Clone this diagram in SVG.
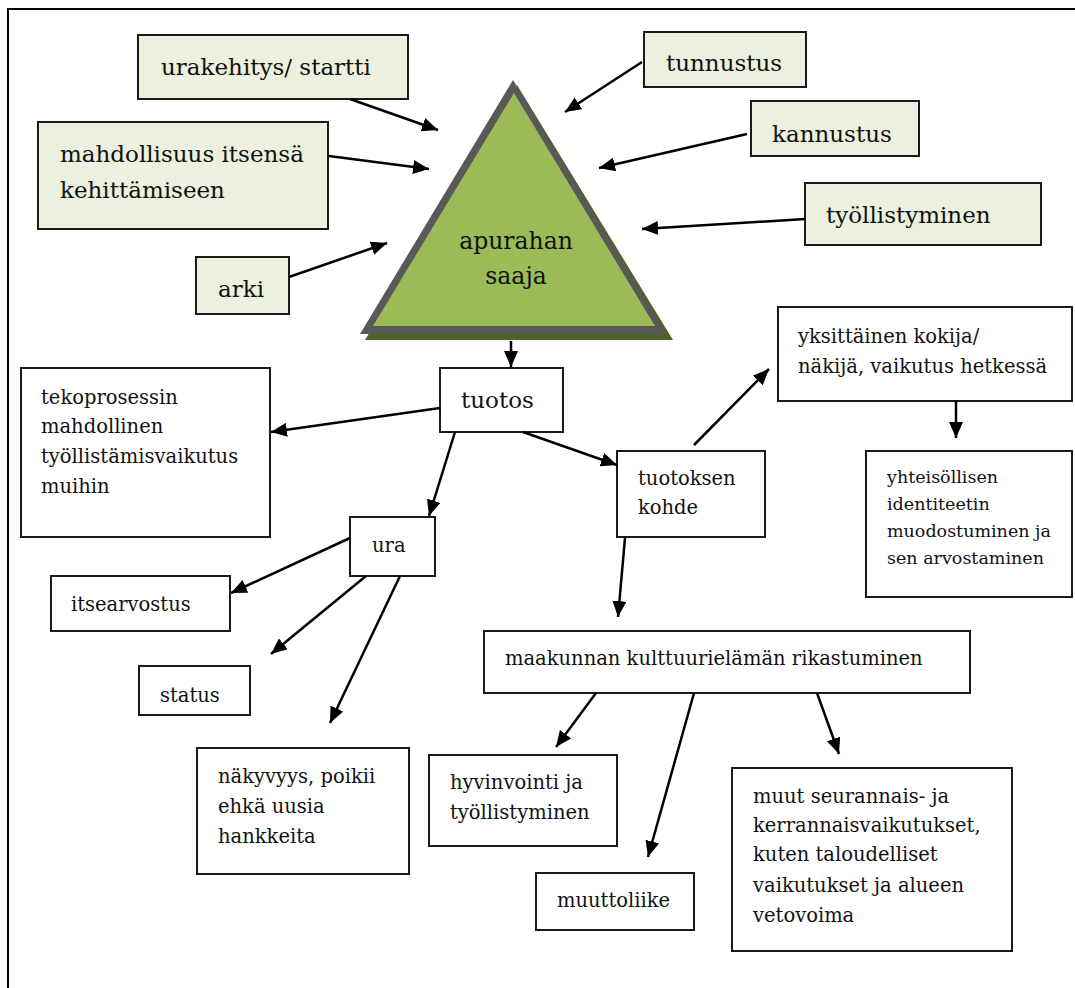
<svg xmlns="http://www.w3.org/2000/svg" width="1075" height="988" viewBox="0 0 1075 988">
<style>
.g{fill:#EBF1DE;stroke:#1a1a1a;stroke-width:2}
.w{fill:#ffffff;stroke:#1a1a1a;stroke-width:2}
.t{font-family:"DejaVu Serif","Liberation Serif",serif;fill:#111;}
.L{font-size:23px}
.A{font-size:23.5px}
.M{font-size:19.5px}
.S{font-size:17.5px}
.c line{stroke:#000;stroke-width:2.5;marker-end:url(#ah)}
</style>
<defs>
<marker id="ah" markerUnits="userSpaceOnUse" markerWidth="17" markerHeight="14" refX="16" refY="7" orient="auto" viewBox="0 0 17 14">
<path d="M0,0 L16,7 L0,14 z" fill="#000"/>
</marker>
</defs>
<rect width="1075" height="988" fill="#fff"/>
<g id="frame"><path d="M8,988 V9 H1075" fill="none" stroke="#000" stroke-width="2"/></g>

<g id="apurahan-saaja">
<polygon points="517,85 365,340 673,340" fill="#4F6228"/>
<polygon points="513,80 360,334 666,334" fill="#595959"/>
<polygon points="514,93 373,326 655,326" fill="#9BBB59"/>
<text class="t A" x="516" y="249" text-anchor="middle">apurahan</text>
<text class="t A" x="516" y="284" text-anchor="middle">saaja</text>
</g>

<g id="urakehitys"><rect class="g" x="138" y="35" width="270" height="64"/><text class="t L" x="161" y="75">urakehitys/ startti</text></g>
<g id="mahdollisuus"><rect class="g" x="38" y="122" width="290" height="107"/><text class="t L" x="60" y="162">mahdollisuus itsensä</text><text class="t L" x="60" y="198">kehittämiseen</text></g>
<g id="arki"><rect class="g" x="196" y="257" width="93" height="57"/><text class="t L" x="218" y="297">arki</text></g>
<g id="tunnustus"><rect class="g" x="644" y="32" width="162" height="55"/><text class="t L" x="666" y="71">tunnustus</text></g>
<g id="kannustus"><rect class="g" x="751" y="101" width="168" height="55"/><text class="t L" x="772" y="142">kannustus</text></g>
<g id="tyollistyminen"><rect class="g" x="805" y="183" width="236" height="62"/><text class="t L" x="826" y="223">työllistyminen</text></g>

<g id="tuotos"><rect class="w" x="440" y="368" width="123" height="64"/><text class="t L" x="461" y="408">tuotos</text></g>
<g id="tekoprosessin"><rect class="w" x="21" y="368" width="249" height="169"/>
<text class="t M" x="41" y="404">tekoprosessin</text><text class="t M" x="41" y="433">mahdollinen</text><text class="t M" x="41" y="463">työllistämisvaikutus</text><text class="t M" x="41" y="493">muihin</text></g>
<g id="ura"><rect class="w" x="350" y="517" width="85" height="59"/><text class="t M" x="372" y="552">ura</text></g>
<g id="itsearvostus"><rect class="w" x="51" y="576" width="179" height="55"/><text class="t M" x="71" y="611">itsearvostus</text></g>
<g id="status"><rect class="w" x="139" y="666" width="111" height="49"/><text class="t M" x="160" y="702">status</text></g>
<g id="nakyvyys"><rect class="w" x="197" y="748" width="212" height="126"/>
<text class="t M" x="218" y="783">näkyvyys, poikii</text><text class="t M" x="218" y="813">ehkä uusia</text><text class="t M" x="218" y="843">hankkeita</text></g>
<g id="tuotoksen-kohde"><rect class="w" x="617" y="451" width="148" height="86"/>
<text class="t M" x="638" y="485">tuotoksen</text><text class="t M" x="638" y="514">kohde</text></g>
<g id="yksittainen"><rect class="w" x="778" y="307" width="294" height="94"/>
<text class="t M" x="798" y="343">yksittäinen kokija/</text><text class="t M" x="798" y="373">näkijä, vaikutus hetkessä</text></g>
<g id="yhteisollisen"><rect class="w" x="866" y="451" width="206" height="146"/>
<text class="t S" x="887" y="483">yhteisöllisen</text><text class="t S" x="887" y="510">identiteetin</text><text class="t S" x="887" y="537">muodostuminen ja</text><text class="t S" x="887" y="564">sen arvostaminen</text></g>
<g id="maakunnan"><rect class="w" x="484" y="631" width="486" height="62"/><text class="t M" x="505" y="665">maakunnan kulttuurielämän rikastuminen</text></g>
<g id="hyvinvointi"><rect class="w" x="429" y="755" width="188" height="91"/>
<text class="t M" x="450" y="789">hyvinvointi ja</text><text class="t M" x="450" y="819">työllistyminen</text></g>
<g id="muuttoliike"><rect class="w" x="536" y="873" width="158" height="57"/><text class="t M" x="557" y="907">muuttoliike</text></g>
<g id="muut"><rect class="w" x="732" y="768" width="280" height="183"/>
<text class="t M" x="753" y="803">muut seurannais- ja</text><text class="t M" x="753" y="832">kerrannaisvaikutukset,</text><text class="t M" x="753" y="861">kuten taloudelliset</text><text class="t M" x="753" y="892">vaikutukset ja alueen</text><text class="t M" x="753" y="922">vetovoima</text></g>

<g id="connectors" class="c">
<line x1="350" y1="99" x2="438" y2="130"/>
<line x1="329" y1="156" x2="429" y2="169"/>
<line x1="289" y1="277" x2="387" y2="243"/>
<line x1="642" y1="62" x2="565" y2="112"/>
<line x1="747" y1="134" x2="599" y2="168"/>
<line x1="805" y1="219" x2="642" y2="229"/>
<line x1="511" y1="341" x2="511" y2="367"/>
<line x1="440" y1="408" x2="271" y2="432"/>
<line x1="455" y1="432" x2="429" y2="516"/>
<line x1="523" y1="432" x2="617" y2="465"/>
<line x1="694" y1="445" x2="769" y2="369"/>
<line x1="956" y1="401" x2="956" y2="438"/>
<line x1="625" y1="538" x2="618" y2="617"/>
<line x1="350" y1="538" x2="231" y2="593"/>
<line x1="366" y1="576" x2="271" y2="654"/>
<line x1="400" y1="576" x2="330" y2="723"/>
<line x1="596" y1="693" x2="556" y2="747"/>
<line x1="694" y1="693" x2="648" y2="857"/>
<line x1="817" y1="693" x2="839" y2="754"/>
</g>
</svg>
